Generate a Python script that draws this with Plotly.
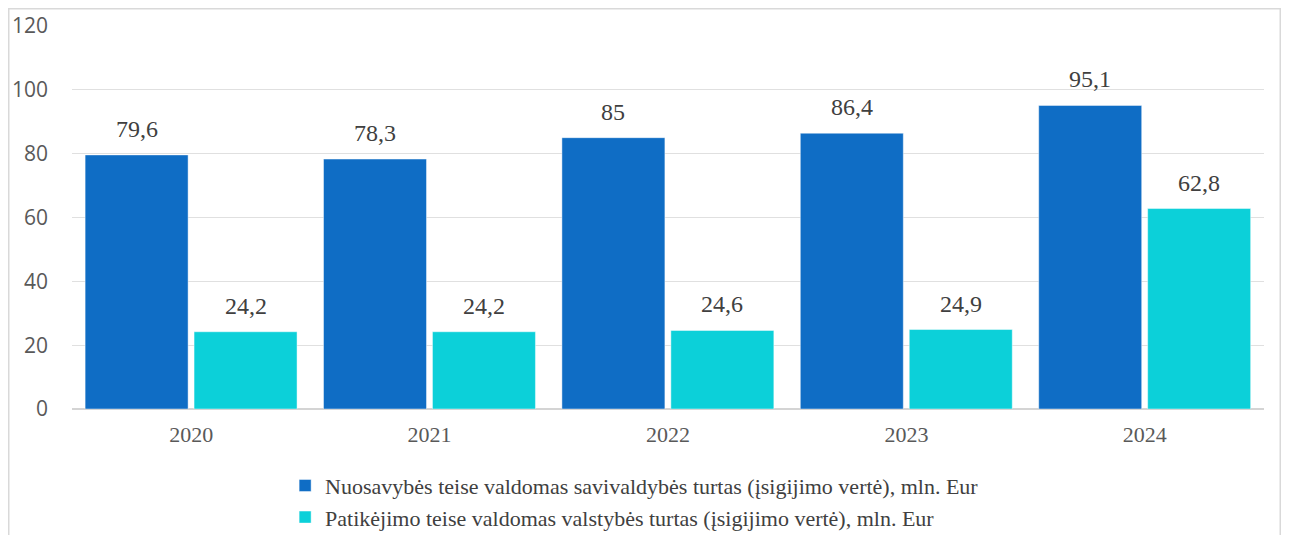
import plotly.graph_objects as go

years = ["2020", "2021", "2022", "2023", "2024"]
owned = [79.6, 78.3, 85, 86.4, 95.1]
trust = [24.2, 24.2, 24.6, 24.9, 62.8]
series_names = [
    "Nuosavybės teise valdomas savivaldybės turtas (įsigijimo vertė), mln. Eur",
    "Patikėjimo teise valdomas valstybės turtas (įsigijimo vertė), mln. Eur",
]
colors = ["#0F6DC5", "#0CD0D9"]

SERIF = "Liberation Serif, Times New Roman, DejaVu Serif, serif"
SANS = "Open Sans, Noto Sans, sans-serif"

xs = list(range(len(years)))
width = 0.432
offsets = [-0.445, 0.012]

fig = go.Figure()
for vals, name, col, off in zip([owned, trust], series_names, colors, offsets):
    fig.add_trace(go.Bar(
        x=xs, y=vals, name=name, width=width, offset=off,
        marker=dict(color=col, line=dict(color="rgba(255,255,255,0.45)", width=1)),
    ))

def fmt(v):
    return f"{v:g}".replace(".", ",")

annotations = []
for vals, off in zip([owned, trust], offsets):
    for i, v in enumerate(vals):
        annotations.append(dict(
            x=i + off + width / 2, y=v, xref="x", yref="y",
            text=fmt(v), showarrow=False, yanchor="bottom", yshift=11,
            font=dict(family=SERIF, size=24, color="#404040"),
        ))

# The page body has an 8px margin, so the figure sits at (8, 8) in the window.
W, H = 1273, 527
fig.update_layout(
    width=W, height=H,
    margin=dict(l=64, r=17, t=17, b=126, autoexpand=False),
    paper_bgcolor="white", plot_bgcolor="white",
    barmode="overlay",
    annotations=annotations,
    showlegend=True,
    legend=dict(
        orientation="v", x=0.472, xanchor="center", y=-0.145, yanchor="top",
        font=dict(family=SERIF, size=22, color="#404040"),
        bgcolor="rgba(0,0,0,0)", itemwidth=30, tracegroupgap=0,
    ),
    xaxis=dict(
        tickmode="array", tickvals=xs, ticktext=years, range=[-0.5, len(years) - 0.5],
        showgrid=False, zeroline=False, showline=False, ticks="",
        tickfont=dict(family=SERIF, size=22, color="#595959"),
        ticklabelstandoff=10, automargin=False,
    ),
    yaxis=dict(
        range=[0, 120.3], tickvals=[0, 20, 40, 60, 80, 100, 120],
        showgrid=True, gridcolor="#E0E0E0", gridwidth=1,
        zeroline=True, zerolinecolor="#D4D4D4", zerolinewidth=2,
        showline=False, ticks="",
        tickfont=dict(family=SANS, size=21, color="#595959"),
        ticklabelstandoff=23, automargin=False,
    ),
    shapes=[dict(
        type="rect", xref="paper", yref="paper",
        x0=(0.75 - 64) / 1192, x1=(W - 0.75 - 64) / 1192,
        y0=-1.0, y1=1 + 16.25 / 384,
        line=dict(color="#D9D9D9", width=1.5), fillcolor="rgba(0,0,0,0)", layer="below",
    )],
)

fig.write_html("out.html")
